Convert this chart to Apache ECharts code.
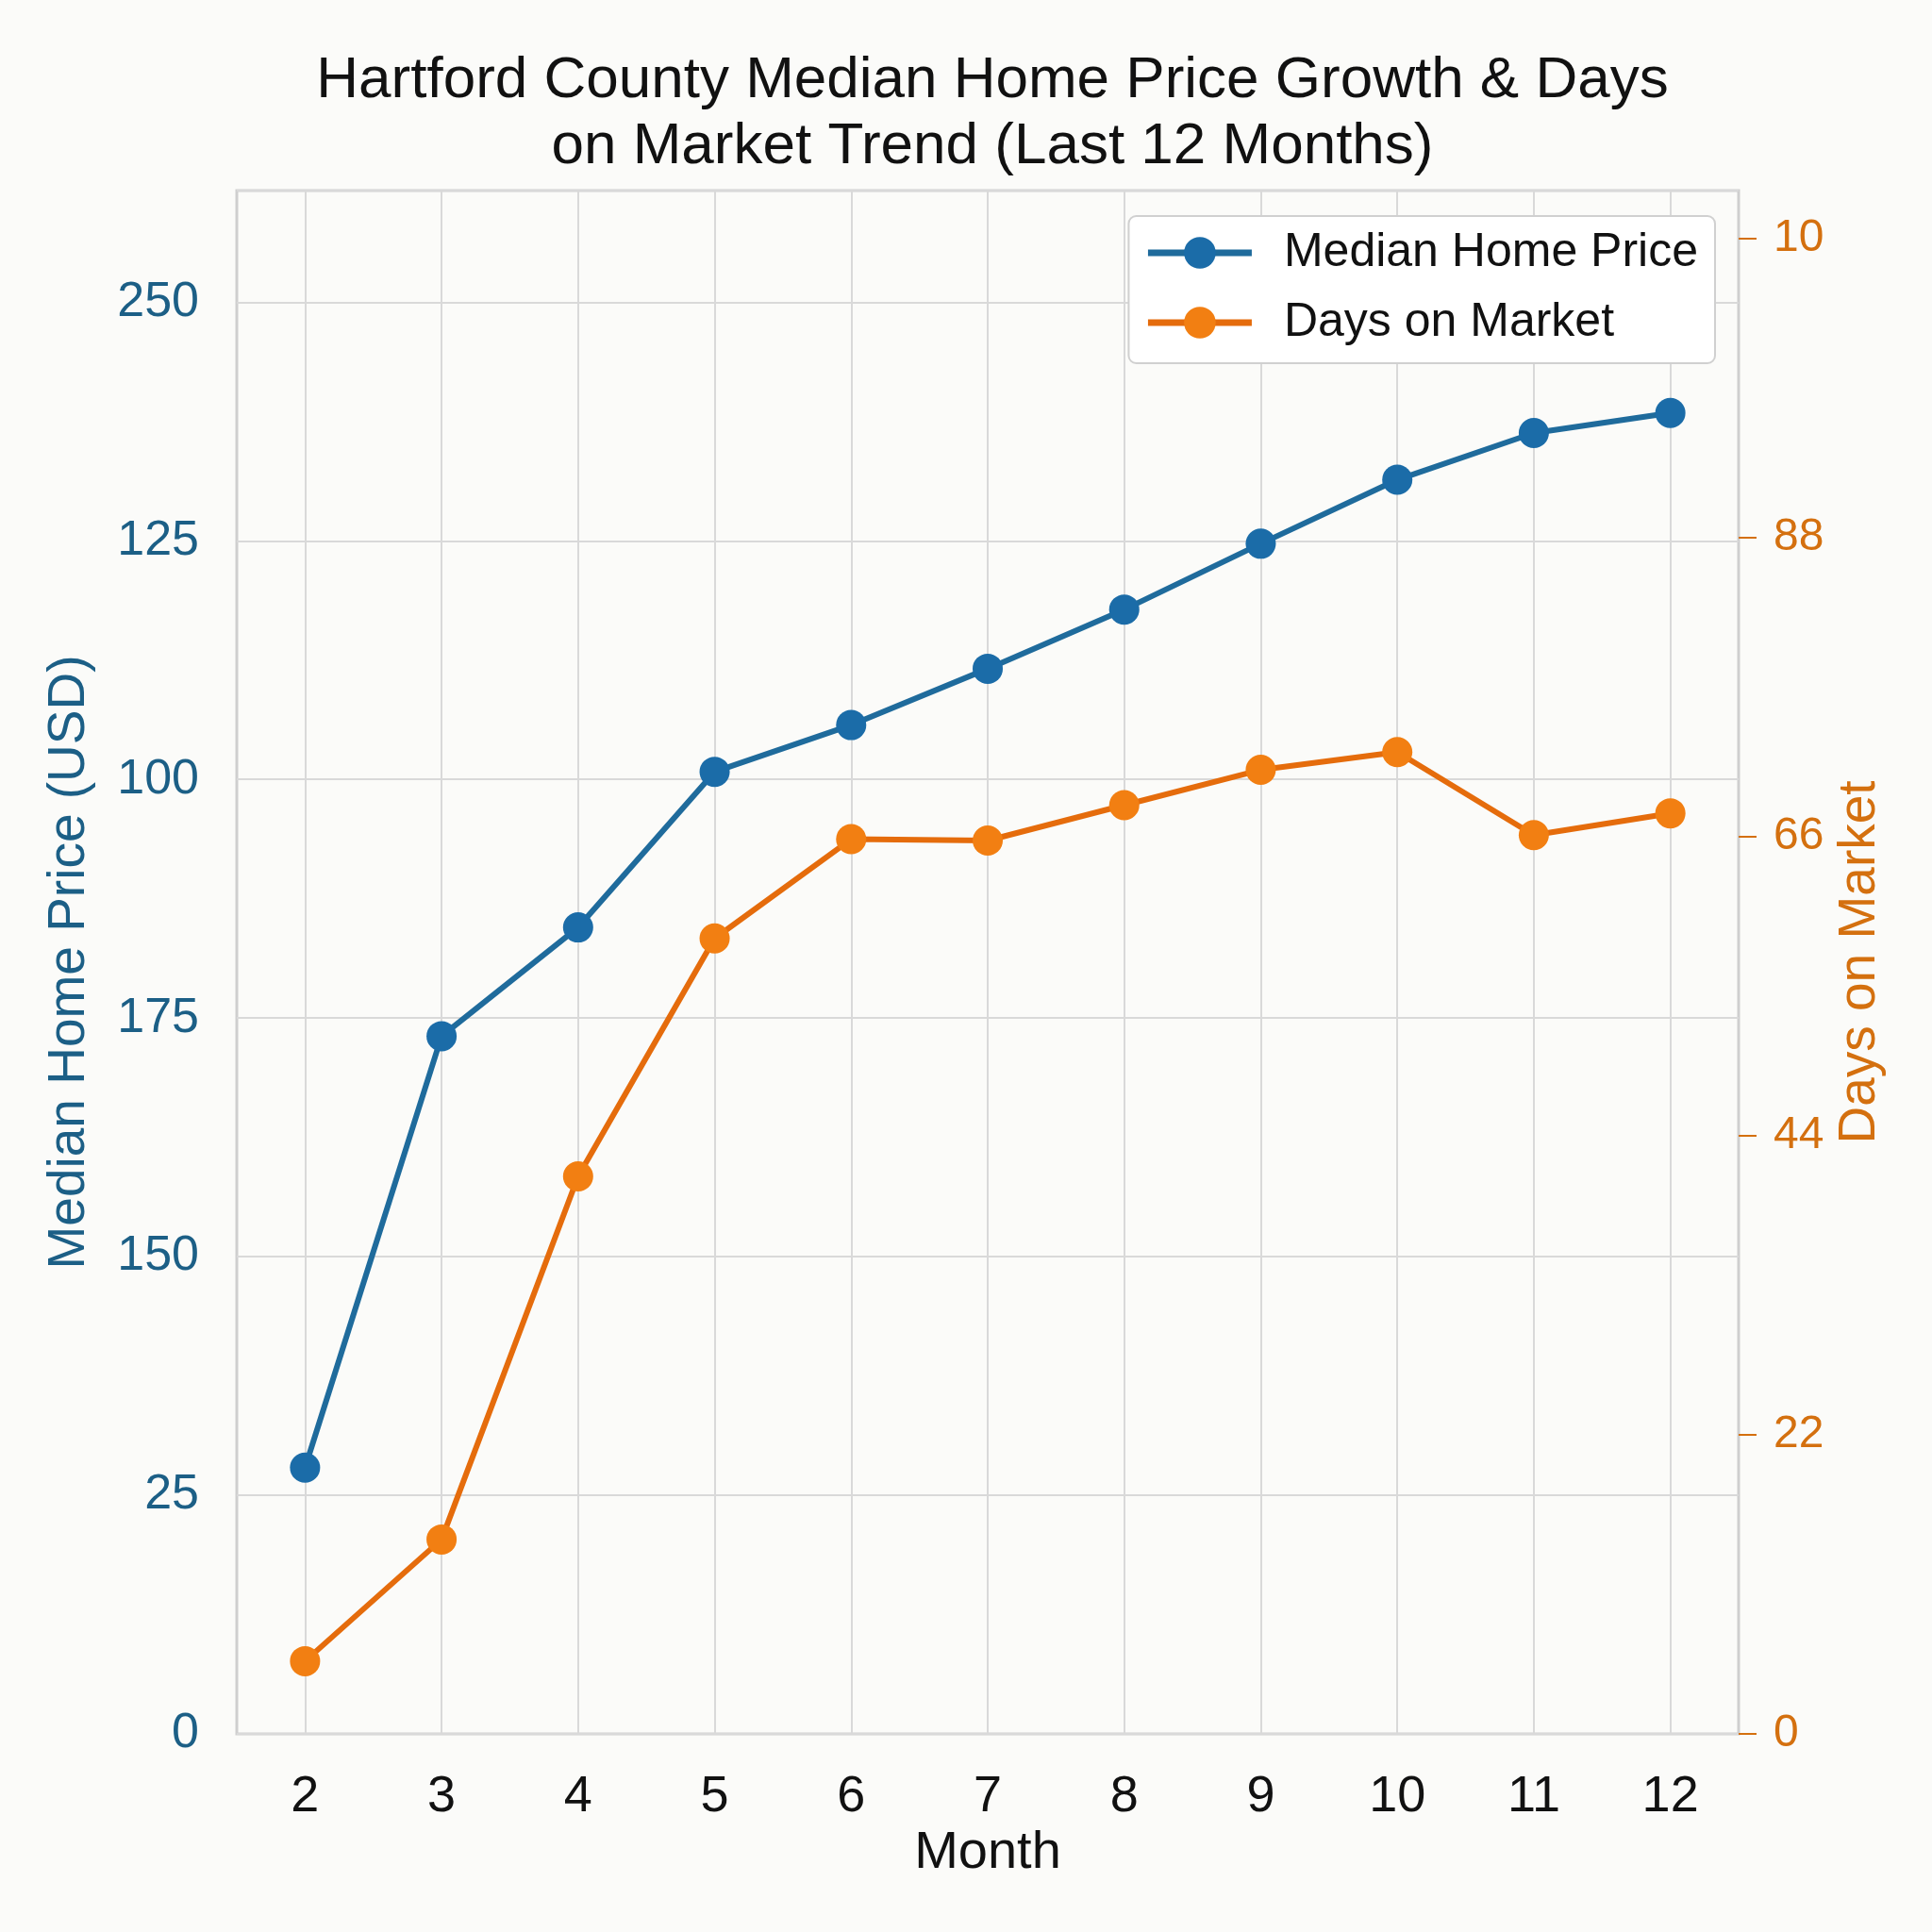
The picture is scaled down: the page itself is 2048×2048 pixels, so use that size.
<!DOCTYPE html>
<html><head><meta charset="utf-8">
<script src="https://cdn.jsdelivr.net/npm/echarts@6/dist/echarts.min.js"></script>
<style>html,body{margin:0;padding:0;background:#fbfbf9;}#c{width:2048px;height:2048px;}</style>
</head><body><div id="c"></div>
<script>
const months = ['2','3','4','5','6','7','8','9','10','11','12'];
const medianPrice = [27.9, 73.1, 84.5, 100.8, 105.7, 111.6, 117.8, 124.7, 131.4, 136.3, 138.4];
const daysOnMarket = [5.35, 14.3, 41.0, 58.5, 65.8, 65.7, 68.3, 70.9, 72.2, 66.1, 67.7];
const leftTickLabels = ['0','25','150','175','100','125','250'];
const rightTickLabels = ['0','22','44','66','88','10'];

const FONT = 'Liberation Sans, Arial, sans-serif';
const BLUE = '#1b6ca8', BLUE_LINE = '#1f6b9c', ORANGE = '#f27f12', ORANGE_LINE = '#e56c0c';
const LEFT_TXT = '#1c5f86', RIGHT_TXT = '#d4700f';

function mapLabel(arr, step) {
  return function (v) {
    const k = v / step, r = Math.round(k);
    if (Math.abs(k - r) > 1e-6) return '';
    return arr[r] !== undefined ? arr[r] : '';
  };
}

const chart = echarts.init(document.getElementById('c'), null, {renderer: 'canvas'});
chart.setOption({
  backgroundColor: '#fbfbf9',
  animation: false,
  title: {
    text: 'Hartford County Median Home Price Growth & Days\non Market Trend (Last 12 Months)',
    left: 1047, top: 46, textAlign: 'center',
    textStyle: {fontFamily: FONT, fontSize: 62, fontWeight: 'normal', color: '#111', lineHeight: 70}
  },
  legend: {
    right: 230, top: 229, orient: 'vertical',
    itemWidth: 110, itemHeight: 42, itemGap: 24,
    padding: [14, 18, 18, 17],
    backgroundColor: '#ffffff', borderColor: '#d0d0d0', borderWidth: 2, borderRadius: 8,
    lineStyle: {width: 7},
    textStyle: {fontFamily: FONT, fontSize: 50, color: '#111', padding: [0, 0, 0, 29]},
    data: ['Median Home Price', 'Days on Market']
  },
  grid: {
    left: 251, right: 205, top: 202, bottom: 210,
    show: true, borderColor: '#cfcfcf', borderWidth: 3, backgroundColor: 'transparent'
  },
  xAxis: {
    type: 'category', data: months, boundaryGap: true,
    name: 'Month', nameLocation: 'middle', nameGap: 97,
    nameTextStyle: {fontFamily: FONT, fontSize: 56, color: '#111'},
    axisLine: {show: false}, axisTick: {show: false, alignWithLabel: true},
    axisLabel: {fontFamily: FONT, fontSize: 54, color: '#111', margin: 40},
    splitLine: {show: true, alignWithLabel: true, lineStyle: {color: '#d9d9d9', width: 2}}
  },
  yAxis: [
    {
      type: 'value', min: 0, max: 161.7, interval: 25,
      name: 'Median Home Price (USD)', nameLocation: 'middle', nameGap: 150, nameRotate: 90,
      nameTextStyle: {fontFamily: FONT, fontSize: 55, color: LEFT_TXT},
      axisLine: {show: false}, axisTick: {show: false},
      axisLabel: {fontFamily: FONT, fontSize: 52, color: LEFT_TXT, margin: 40, showMaxLabel: false,
                  formatter: mapLabel(leftTickLabels, 25)},
      splitLine: {show: true, lineStyle: {color: '#d9d9d9', width: 2}}
    },
    {
      type: 'value', min: 0, max: 113.5, interval: 22, position: 'right',
      name: 'Days on Market', nameLocation: 'middle', nameGap: 100, nameRotate: 90,
      nameTextStyle: {fontFamily: FONT, fontSize: 55, color: RIGHT_TXT},
      axisLine: {show: false},
      axisTick: {show: true, length: 19, lineStyle: {color: RIGHT_TXT, width: 2}},
      axisLabel: {fontFamily: FONT, fontSize: 48, color: RIGHT_TXT, margin: 37, showMaxLabel: false,
                  formatter: mapLabel(rightTickLabels, 22)},
      splitLine: {show: false}
    }
  ],
  series: [
    {
      name: 'Median Home Price', type: 'line', yAxisIndex: 0, data: medianPrice,
      symbol: 'circle', symbolSize: 32,
      lineStyle: {color: BLUE_LINE, width: 6}, itemStyle: {color: BLUE}
    },
    {
      name: 'Days on Market', type: 'line', yAxisIndex: 1, data: daysOnMarket,
      symbol: 'circle', symbolSize: 32,
      lineStyle: {color: ORANGE_LINE, width: 6}, itemStyle: {color: ORANGE}
    }
  ]
});
</script></body></html>
